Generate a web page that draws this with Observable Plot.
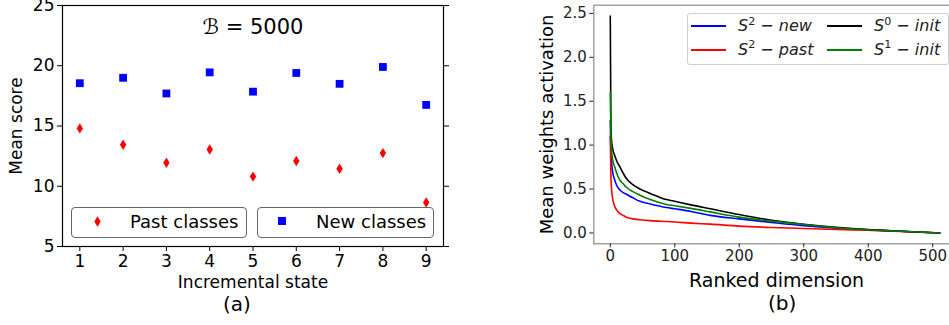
<!DOCTYPE html>
<html>
<head>
<meta charset="utf-8">
<script src="https://cdn.jsdelivr.net/npm/d3@7"></script>
<script src="https://cdn.jsdelivr.net/npm/@observablehq/plot@0.6"></script>
<style>
  html, body { margin: 0; padding: 0; background: white; }
  #wrap { position: relative; width: 949px; height: 325px; overflow: hidden; font-family: "DejaVu Sans", sans-serif; background: white; }
  #wrap > .abs { position: absolute; }
  .lbox { position: absolute; border: 1px solid #666; border-radius: 4px; background: rgba(255,255,255,0.8); box-sizing: border-box; }
  .ltxt { position: absolute; white-space: nowrap; line-height: 1; }
  .rbox { position: absolute; border: 1px solid #d0d0d0; border-radius: 3px; background: rgba(255,255,255,0.85); box-sizing: border-box; }
  .rline { position: absolute; height: 2px; }
  .sup { font-style: normal; font-size: 0.7em; position: relative; top: -0.55em; }
</style>
</head>
<body>
<div id="wrap"></div>
<script>
// ---------- Data: panel (a) ----------
const states = [1, 2, 3, 4, 5, 6, 7, 8, 9];
const pastScores = [14.8, 13.45, 11.95, 13.05, 10.8, 12.1, 11.45, 12.75, 8.65];
const newScores  = [18.55, 19.0, 17.7, 19.45, 17.85, 19.4, 18.5, 19.9, 16.75];
const xTicksA = [1, 2, 3, 4, 5, 6, 7, 8, 9];
const yTicksA = [5, 10, 15, 20, 25];

// ---------- Data: panel (b) ----------
const rankedDim = [0, 1, 2, 4, 7, 10, 15, 20, 25, 35, 46, 62, 87, 100, 125, 155, 200, 250, 300, 350, 400, 450, 511];
const s2New  = [1.28, 0.9, 0.8, 0.68, 0.6, 0.54, 0.49, 0.46, 0.44, 0.40, 0.36, 0.33, 0.29, 0.275, 0.245, 0.2, 0.16, 0.12, 0.083, 0.055, 0.035, 0.02, 0];
const s2Past = [1.1, 0.65, 0.5, 0.38, 0.3, 0.26, 0.22, 0.2, 0.18, 0.16, 0.15, 0.14, 0.13, 0.125, 0.112, 0.1, 0.078, 0.062, 0.05, 0.04, 0.03, 0.018, 0];
const s0Init = [2.47, 1.2, 1.05, 0.95, 0.88, 0.82, 0.75, 0.68, 0.62, 0.55, 0.5, 0.45, 0.38, 0.36, 0.32, 0.276, 0.21, 0.145, 0.1, 0.065, 0.038, 0.02, 0];
const s1Init = [1.6, 1.1, 0.95, 0.82, 0.75, 0.68, 0.6, 0.56, 0.52, 0.47, 0.43, 0.38, 0.325, 0.31, 0.28, 0.24, 0.18, 0.135, 0.097, 0.06, 0.036, 0.02, 0];
const xTicksB = [0, 100, 200, 300, 400, 500];
const yTicksB = [0, 0.5, 1.0, 1.5, 2.0, 2.5];

const wrap = document.getElementById("wrap");
const FONT = "DejaVu Sans, sans-serif";

// thin diamond symbol (matplotlib 'd')
const thinDiamond = {
  draw(ctx) {
    const h = 5.2, w = 3.2;
    ctx.moveTo(0, -h); ctx.lineTo(w, 0); ctx.lineTo(0, h); ctx.lineTo(-w, 0); ctx.closePath();
  }
};

const pastData = states.map((s, i) => ({state: s, score: pastScores[i]}));
const newData = states.map((s, i) => ({state: s, score: newScores[i]}));

const plotA = Plot.plot({
  width: 460, height: 325,
  marginLeft: 62, marginRight: 17, marginTop: 5, marginBottom: 79,
  style: {fontFamily: FONT, fontSize: "17px", color: "black", background: "white", overflow: "visible"},
  x: {domain: [0.6, 9.4]},
  y: {domain: [5, 25]},
  marks: [
    Plot.frame({stroke: "black", strokeWidth: 1.2}),
    Plot.axisX({ticks: xTicksA, tickSize: 5, tickPadding: 3, label: null, fontSize: 17}),
    Plot.axisY({ticks: yTicksA, tickSize: 5, tickPadding: 3, label: null, fontSize: 17}),
    Plot.axisY({anchor: "right", ticks: yTicksA, tickSize: 5, tickFormat: () => "", label: null}),
    Plot.dot(pastData, {x: "state", y: "score", symbol: thinDiamond, fill: "#ff0000", stroke: null}),
    Plot.dot(newData, {x: "state", y: "score", symbol: "square", r: 4.4, fill: "#0000ff", stroke: null}),
    Plot.text(["ℬ = 5000"], {frameAnchor: "top", dy: 22, fontSize: 21, textAnchor: "middle", lineAnchor: "middle"}),
    Plot.text(["Incremental state"], {frameAnchor: "bottom", dy: 36.5, fontSize: 17, textAnchor: "middle", lineAnchor: "middle"}),
    Plot.text(["(a)"], {frameAnchor: "bottom", dx: -16, dy: 58, fontSize: 20, textAnchor: "middle", lineAnchor: "middle"}),
    Plot.text(["Mean score"], {frameAnchor: "left", rotate: -90, dx: -46, fontSize: 17, textAnchor: "middle", lineAnchor: "middle"})
  ]
});
plotA.classList.add("abs");
plotA.style.left = "0px"; plotA.style.top = "0px";
wrap.appendChild(plotA);

const plotB = Plot.plot({
  width: 430, height: 325,
  marginLeft: 63.3, marginRight: 4.2, marginTop: 4.7, marginBottom: 81.7,
  style: {fontFamily: FONT, fontSize: "15px", color: "#222", background: "white", overflow: "visible"},
  x: {domain: [-25.55, 536.55]},
  y: {domain: [-0.1235, 2.5935]},
  marks: [
    Plot.frame({stroke: "#8a8a8a", strokeWidth: 1.2}),
    Plot.axisX({ticks: xTicksB, tickSize: 4, tickPadding: 3, label: null, fontSize: 15}),
    Plot.axisY({ticks: yTicksB, tickSize: 4, tickPadding: 3, label: null, fontSize: 15, tickFormat: d3.format(".1f")}),
    Plot.line(rankedDim, {x: d => d, y: (d, i) => s2New[i], stroke: "#0000ff", strokeWidth: 1.6, curve: "monotone-x"}),
    Plot.line(rankedDim, {x: d => d, y: (d, i) => s2Past[i], stroke: "#ff0000", strokeWidth: 1.6, curve: "monotone-x"}),
    Plot.line(rankedDim, {x: d => d, y: (d, i) => s0Init[i], stroke: "#000000", strokeWidth: 1.6, curve: "monotone-x"}),
    Plot.line(rankedDim, {x: d => d, y: (d, i) => s1Init[i], stroke: "#008000", strokeWidth: 1.6, curve: "monotone-x"}),
    Plot.text(["Ranked dimension"], {frameAnchor: "bottom", dx: 1.5, dy: 37, fontSize: 19, fill: "black", textAnchor: "middle", lineAnchor: "middle"}),
    Plot.text(["(b)"], {frameAnchor: "bottom", dx: 7, dy: 60, fontSize: 20, fill: "black", textAnchor: "middle", lineAnchor: "middle"}),
    Plot.text(["Mean weights activation"], {frameAnchor: "left", rotate: -90, dx: -46.6, fontSize: 18, fill: "black", textAnchor: "middle", lineAnchor: "middle"})
  ]
});
plotB.classList.add("abs");
plotB.style.left = "530px"; plotB.style.top = "0px";
wrap.appendChild(plotB);

// ---------- Legends ----------
function el(tag, cls, css, html) {
  const e = document.createElement(tag);
  if (cls) e.className = cls;
  Object.assign(e.style, css);
  if (html != null) e.innerHTML = html;
  wrap.appendChild(e);
  return e;
}
el("div", "lbox", {left: "71px", top: "207px", width: "176px", height: "31px"});
el("div", "lbox", {left: "257px", top: "207px", width: "177px", height: "31px"});
el("div", "ltxt", {left: "93.5px", top: "215.5px"},
  '<svg width="7" height="11" style="display:block"><path d="M3.5,0.3 L6.7,5.5 L3.5,10.7 L0.3,5.5Z" fill="#ff0000"/></svg>');
el("div", "ltxt", {left: "278px", top: "217px", width: "8px", height: "8px", background: "#0000ff"});
el("div", "ltxt", {left: "130px", top: "212.5px", fontSize: "18px"}, "Past classes");
el("div", "ltxt", {left: "316px", top: "212.5px", fontSize: "18px"}, "New classes");

el("div", "rbox", {left: "687px", top: "12.5px", width: "262px", height: "52px"});
el("div", "rline", {left: "691px", top: "25px", width: "35px", background: "#0000ff"});
el("div", "rline", {left: "691px", top: "48.5px", width: "35px", background: "#ff0000"});
el("div", "rline", {left: "827px", top: "25px", width: "35px", background: "#000000"});
el("div", "rline", {left: "827px", top: "48.5px", width: "35px", background: "#008000"});
el("div", "ltxt", {left: "738px", top: "18px", fontSize: "16px", color: "#222"}, '<i>S</i><span class="sup">2</span> − <i>new</i>');
el("div", "ltxt", {left: "738px", top: "41.5px", fontSize: "16px", color: "#222"}, '<i>S</i><span class="sup">2</span> − <i>past</i>');
el("div", "ltxt", {left: "874px", top: "18px", fontSize: "16px", color: "#222"}, '<i>S</i><span class="sup">0</span> − <i>init</i>');
el("div", "ltxt", {left: "874px", top: "41.5px", fontSize: "16px", color: "#222"}, '<i>S</i><span class="sup">1</span> − <i>init</i>');
</script>
</body>
</html>
